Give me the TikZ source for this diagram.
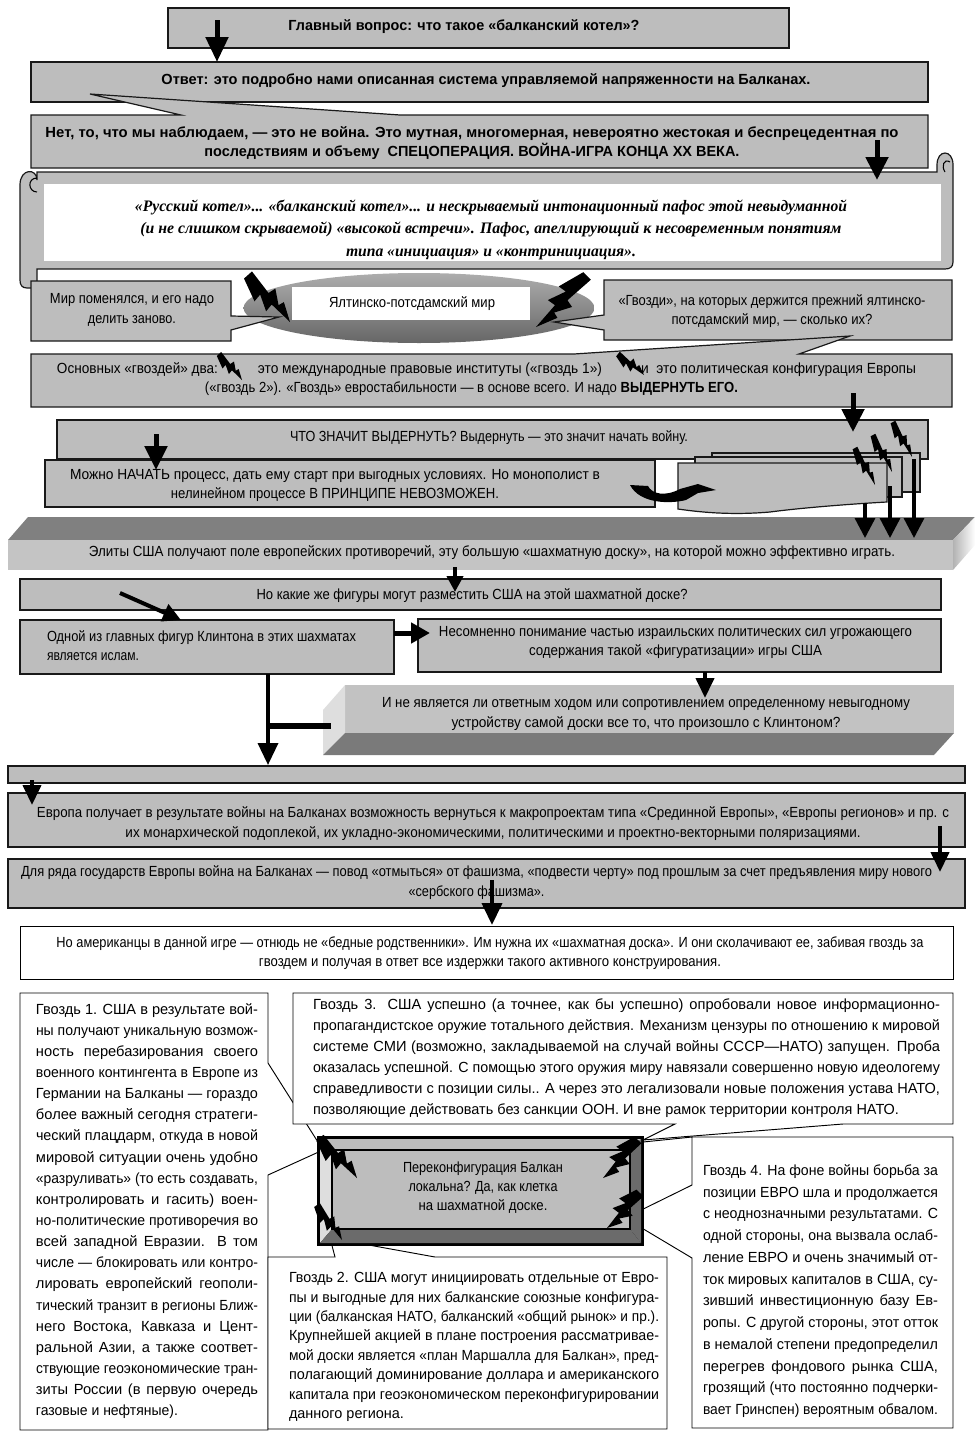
\documentclass[tikz,border=0pt]{standalone}
\usepackage{fontspec}
\usepackage{graphicx}
\setmainfont{Liberation Sans}
\newfontfamily\serf{Liberation Serif}
\usetikzlibrary{arrows.meta,calc,shapes.geometric}
\newdimen\px \px=.75pt
\newsavebox\lbox
\newcommand\fit[2]{\resizebox{#1\px}{\height}{#2}}
\newcommand\jl[2]{\sbox\lbox{#2}\ifdim\wd\lbox>#1\px\relax\resizebox{#1\px}{\height}{\usebox\lbox}\else\makebox[#1\px][s]{#2}\fi}
\definecolor{boxgray}{gray}{.74}
\definecolor{darkface}{gray}{.5}
\definecolor{lightface}{gray}{.87}
\tikzset{
  gbox/.style={draw=black!90,line width=.9pt,fill=boxgray,inner sep=0,outer sep=0},
  wbox/.style={draw=black,line width=.7pt,fill=white,inner sep=0,outer sep=0},
  nobox/.style={fill=white,inner sep=0,outer sep=0},
  txt/.style={inner sep=0,outer sep=0,align=center,font=\fontsize{11}{14.6}\selectfont},
  gtxt/.style={inner sep=0,outer sep=0,align=left,anchor=west},
  barrow/.style n args={3}{draw=black,line width=#1*.75pt,-{Triangle[length=#2*.75pt,width=#3*.75pt]}}
}
\newcommand\bx[6][gbox]{\node[#1,minimum width={(#5-#3)*\px},minimum height={(#6-#4)*\px}] (#2) at ({(#3+#5)/2},{(#4+#6)/2}) {};}
\newcommand\tl[5][]{\node[txt,#1] (#2) at (#3,#4) {#5};}
\newcommand\arr[6]{\coordinate (#1s) at (#2);\coordinate (#1e) at (#3);\draw[barrow={#4}{#5}{#6}] (#1s) -- (#1e);}
\newcommand\bolt[3]{\coordinate (bA) at (#1);\coordinate (bB) at (#2);
 \fill[black] ($(bA)!-.4*#3pt!90:(bB)$)
  -- ($(bA)!.38!(bB)!-.95*#3pt!90:(bB)$)
  -- ($(bA)!.36!(bB)!-.3*#3pt!90:(bB)$)
  -- ($(bA)!.62!(bB)!-.8*#3pt!90:(bB)$)
  -- ($(bA)!.60!(bB)!-.15*#3pt!90:(bB)$)
  -- (bB)
  -- ($(bA)!.70!(bB)!.65*#3pt!90:(bB)$)
  -- ($(bA)!.68!(bB)!.2*#3pt!90:(bB)$)
  -- ($(bA)!.45!(bB)!.85*#3pt!90:(bB)$)
  -- ($(bA)!.43!(bB)!.25*#3pt!90:(bB)$)
  -- ($(bA)!.4*#3pt!90:(bB)$) -- cycle;}
\begin{document}
\begin{tikzpicture}[x=.75pt,y=-.75pt]
\useasboundingbox (0,0) rectangle (978,1431);
% --- top boxes
\bx{b1}{168}{8}{789}{48}
\bx{b2}{31}{62}{928}{102}
\draw[gbox] (31,115) -- (181,115) -- (90,94) -- (400,115) -- (928,115) -- (928,168) -- (31,168) -- cycle;
\tl{t1}{464}{27}{\bfseries\fit{351}{Главный вопрос: что такое «балканский котел»?}}
\tl{t2}{486}{81}{\bfseries\fit{649}{Ответ: это подробно нами описанная система управляемой напряженности на Балканах.}}
\tl{t3}{472}{143}{\bfseries\fit{853}{Нет, то, что мы наблюдаем, — это не война. Это мутная, многомерная, невероятно жестокая и беспрецедентная по}\\\bfseries\fit{535}{последствиям и объему\ \ СПЕЦОПЕРАЦИЯ. ВОЙНА-ИГРА КОНЦА ХХ ВЕКА.}}
% --- scroll
\draw[gbox] (37,172) -- (937,172) -- (937,165) .. controls (937,149) and (953,149) .. (953,165) -- (953,262) .. controls (953,267) and (950,269) .. (945,269) -- (37,269) -- (37,288) -- (27,288) .. controls (22,288) and (20,285) .. (20,280) -- (20,185) .. controls (20,168) and (37,168) .. (37,180) -- cycle;
\draw[draw=black,line width=.8pt] (37,192) .. controls (28,192) and (27,178) .. (37,178);
\draw[draw=black,line width=.8pt] (945,172) .. controls (941,166) and (944,158) .. (950,162);
\bx[nobox]{scrollin}{44}{184}{941}{261}
\tl[font={\serf\itshape\bfseries\fontsize{12}{16.9}\selectfont}]{t4}{491}{229.5}{\fit{712}{«Русский котел»... «балканский котел»... и нескрываемый интонационный пафос этой невыдуманной}\\\fit{701}{(и не слишком скрываемой) «высокой встречи». Пафос, апеллирующий к несовременным понятиям}\\\fit{290}{типа «инициация» и «контринициация».}}
% --- ellipse
\node[ellipse,draw=none,top color=black!32,bottom color=black!60,minimum width=351*\px,minimum height=70*\px,inner sep=0,outer sep=0] (ell) at (419,308) {};
\bx[nobox]{yp}{292}{287}{530}{320}
\tl{t5}{412}{304}{\fit{166}{Ялтинско-потсдамский мир}}
\draw[gbox] (31,281) -- (231,281) -- (231,316) -- (279,317) -- (231,330) -- (231,341) -- (31,341) -- cycle;
\tl{t6}{132}{310}{\fit{164}{Мир поменялся, и его надо}\\\fit{88}{делить заново.}}
\draw[gbox] (604,280) -- (952,280) -- (952,340) -- (604,340) -- (604,330) -- (554,322) -- (604,315) -- cycle;
\tl{t7}{772}{311}{\fit{307}{«Гвозди», на которых держится прежний ялтинско-}\\\fit{201}{потсдамский мир, — сколько их?}}
\draw[gbox] (31,354) -- (574,354) -- (850,336) -- (799,354) -- (952,354) -- (952,407) -- (31,407) -- cycle;
\tl{t8a}{137.5}{370}{\fit{161}{Основных «гвоздей» два:}}
\tl{t8b}{430}{370}{\fit{344}{это международные правовые институты («гвоздь 1»)}}
\tl{t8c}{778.5}{370}{\fit{275}{и\ \ это политическая конфигурация Европы}}
\tl{t8d}{471.5}{389}{\fit{533}{(«гвоздь 2»). «Гвоздь» евростабильности — в основе всего. И надо \textbf{ВЫДЕРНУТЬ ЕГО.}}}
% --- war block
\bx{b6}{57}{420}{928}{459}
\tl{t9}{489}{438}{\fit{398}{ЧТО ЗНАЧИТ ВЫДЕРНУТЬ? Выдернуть — это значит начать войну.}}
\bx{docc}{712}{453}{920}{492}
\bx{docb}{695}{457}{902}{497}
\draw[gbox] (678,463) -- (887,463) -- (887,502) .. controls (850,504) and (800,508) .. (770,512) .. controls (735,515) and (705,513) .. (678,509) -- cycle;
\bx{b7}{45}{460}{655}{507}
\tl{t10}{335}{485.5}{\fit{530}{Можно НАЧАТЬ процесс, дать ему старт при выгодных условиях. Но монополист в}\\\fit{328}{нелинейном процессе В ПРИНЦИПЕ НЕВОЗМОЖЕН.}}
\fill[black] (630,485) -- (648,486) .. controls (652,494) and (665,497) .. (680,489) -- (698,484) -- (716,490) -- (698,493) -- (686,500) .. controls (670,504) and (640,504) .. (630,485) -- cycle;
% --- board
\fill[darkface] (28,517) -- (975,517) -- (953,540) -- (8,540) -- cycle;
\fill[black!23] (8,540) rectangle (953,570);
\shade[left color=black!30,right color=white] (953,540) -- (975,517) -- (975,545) -- (953,570) -- cycle;
\tl{t11}{492}{553}{\fit{806}{Элиты США получают поле европейских противоречий, эту большую «шахматную доску», на которой можно эффективно играть.}}
% --- chess
\bx{b8}{20}{579}{941}{610}
\tl{t12}{472}{596}{\fit{431}{Но какие же фигуры могут разместить США на этой шахматной доске?}}
\bx{b9}{20}{620}{394}{674}
\node[txt,anchor=west,align=left] (t13) at (47,645.5) {\fit{309}{Одной из главных фигур Клинтона в этих шахматах}\\\fit{92}{является ислам.}};
\bx{b10}{418}{619}{941}{672}
\tl{t14}{675.5}{642.5}{\fit{473}{Несомненно понимание частью израильских политических сил угрожающего}\\\fit{293}{содержания такой «фигуратизации» игры США}}
\fill[black!24] (345,685) rectangle (954,733);
\fill[lightface] (345,685) -- (323,710) -- (323,755) -- (345,733) -- cycle;
\fill[black!52] (345,733) -- (954,733) -- (934,755) -- (323,755) -- cycle;
\tl{t15}{646}{714}{\fit{528}{И не является ли ответным ходом или сопротивлением определенному невыгодному}\\\fit{389}{устройству самой доски все то, что произошло с Клинтоном?}}
% --- Europe
\bx{b12}{8}{766}{965}{783}
\bx{b13}{8}{793}{965}{847}
\tl{t16}{493}{823.5}{\fit{912}{Европа получает в результате войны на Балканах возможность вернуться к макропроектам типа «Срединной Европы», «Европы регионов» и пр. с}\\\fit{735}{их монархической подоплекой, их укладно-экономическими, политическими и проектно-векторными поляризациями.}}
\bx{b14}{8}{859}{965}{908}
\tl{t17}{476.5}{882.5}{\fit{911}{Для ряда государств Европы война на Балканах — повод «отмыться» от фашизма, «подвести черту» под прошлым за счет предъявления миру нового}\\\fit{136}{«сербского фашизма».}}
\bx[wbox]{b15}{20}{926}{953}{979}
\tl{t18}{490}{953}{\fit{867}{Но американцы в данной игре — отнюдь не «бедные родственники». Им нужна их «шахматная доска». И они сколачивают ее, забивая гвоздь за}\\\fit{462}{гвоздем и получая в ответ все издержки такого активного конструирования.}}
% --- Gvozd boxes
\draw[wbox] (20,993) -- (268,993) -- (268,1063) -- (323,1150) -- (268,1175) -- (268,1430) -- (20,1430) -- cycle;
\draw[wbox] (268,1257) -- (335,1257) -- (330,1238) -- (435,1257) -- (667,1257) -- (667,1429) -- (268,1429) -- cycle;
\draw[wbox] (293,993) -- (953,993) -- (953,1124) -- (843,1124) -- (643,1140) -- (675,1124) -- (293,1124) -- cycle;
\draw[wbox] (953,1137) -- (692,1137) -- (643,1142) -- (692,1137) -- (692,1185) -- (625,1218) -- (692,1258) -- (692,1428) -- (953,1428) -- cycle;
% --- frame
\bx[draw=black,line width=2pt,fill=black,inner sep=0,outer sep=0]{frame}{318}{1137}{643}{1245}
\fill[boxgray] (320,1139) -- (641,1139) -- (630,1150) -- (332,1150) -- cycle;
\fill[lightface] (320,1139) -- (332,1150) -- (332,1229) -- (320,1243) -- cycle;
\fill[black!58] (641,1139) -- (641,1243) -- (630,1229) -- (630,1150) -- cycle;
\fill[black!58] (320,1243) -- (332,1229) -- (630,1229) -- (641,1243) -- cycle;
\bx[draw=black,line width=2.2pt,fill=boxgray,inner sep=0,outer sep=0]{core}{332}{1150}{630}{1229}
\tl[font={\fontsize{11}{14.3}\selectfont}]{t19}{483}{1188}{\fit{160}{Переконфигурация Балкан}\\\fit{149}{локальна? Да, как клетка}\\\fit{129}{на шахматной доске.}}
% --- Gvozd texts
\node[gtxt,font=\fontsize{11}{15.86}\selectfont] (g1) at (36,1211) {\jl{222}{Гвоздь 1. США в результате вой-}\\
\jl{222}{ны получают уникальную возмож-}\\
\jl{222}{ность перебазирования своего}\\
\jl{222}{военного контингента в Европе из}\\
\jl{222}{Германии на Балканы — гораздо}\\
\jl{222}{более важный сегодня стратеги-}\\
\jl{222}{ческий плацдарм, откуда в новой}\\
\jl{222}{мировой ситуации очень удобно}\\
\jl{222}{«разруливать» (то есть создавать,}\\
\jl{222}{контролировать и гасить) воен-}\\
\jl{222}{но-политические противоречия во}\\
\jl{222}{всей западной Евразии. В том}\\
\jl{222}{числе — блокировать или контро-}\\
\jl{222}{лировать европейский геополи-}\\
\jl{222}{тический транзит в регионы Ближ-}\\
\jl{222}{него Востока, Кавказа и Цент-}\\
\jl{222}{ральной Азии, а также соответ-}\\
\jl{222}{ствующие геоэкономические тран-}\\
\jl{222}{зиты России (в первую очередь}\\
\fit{142}{газовые и нефтяные).}};
\node[gtxt,font=\fontsize{11}{14.55}\selectfont] (g2) at (289,1347) {\jl{370}{Гвоздь 2. США могут инициировать отдельные от Евро-}\\
\jl{370}{пы и выгодные для них балканские союзные конфигура-}\\
\jl{370}{ции (балканская НАТО, балканский «общий рынок» и пр.).}\\
\jl{370}{Крупнейшей акцией в плане построения рассматривае-}\\
\jl{370}{мой доски является «план Маршалла для Балкан», пред-}\\
\jl{370}{полагающий доминирование доллара и американского}\\
\jl{370}{капитала при геоэкономическом переконфигурировании}\\
\fit{115}{данного региона.}};
\node[gtxt,font=\fontsize{11}{15.75}\selectfont] (g3) at (313,1058) {\jl{627}{Гвоздь 3. США успешно (а точнее, как бы успешно) опробовали новое информационно-}\\
\jl{627}{пропагандистское оружие тотального действия. Механизм цензуры по отношению к мировой}\\
\jl{627}{системе СМИ (возможно, закладываемой на случай войны СССР—НАТО) запущен. Проба}\\
\jl{627}{оказалась успешной. С помощью этого оружия миру навязали совершенно новую идеологему}\\
\jl{627}{справедливости с позиции силы.. А через это легализовали новые положения устава НАТО,}\\
\fit{586}{позволяющие действовать без санкции ООН. И вне рамок территории контроля НАТО.}};
\node[gtxt,font=\fontsize{11}{16.3}\selectfont] (g4) at (703,1291) {\jl{235}{Гвоздь 4. На фоне войны борьба за}\\
\jl{235}{позиции ЕВРО шла и продолжается}\\
\jl{235}{с неоднозначными результатами. С}\\
\jl{235}{одной стороны, она вызвала ослаб-}\\
\jl{235}{ление ЕВРО и очень значимый от-}\\
\jl{235}{ток мировых капиталов в США, су-}\\
\jl{235}{зивший инвестиционную базу Ев-}\\
\jl{235}{ропы. С другой стороны, этот отток}\\
\jl{235}{в немалой степени предопределил}\\
\jl{235}{перегрев фондового рынка США,}\\
\jl{235}{грозящий (что постоянно подчерки-}\\
\jl{235}{вает Гринспен) вероятным обвалом.}};
% --- bolts
\bolt{248,275}{290,322}{10}
\bolt{587,276}{536,327}{10}
\bolt{219,354}{242,380}{5.5}
\bolt{618,354}{644,375}{5.5}
\bolt{855,448}{875,485}{5}
\bolt{873,435}{892,472}{5}
\bolt{893,422}{912,457}{5}
\bolt{320,1138}{357,1178}{9}
\bolt{638,1140}{603,1178}{9}
\bolt{640,1193}{607,1228}{9}
\bolt{317,1205}{342,1240}{6.5}
% --- arrows
\arr{a1}{217,20}{217,62}{5}{25}{22}
\arr{a3}{877,140}{877,180}{5}{23}{22}
\arr{a6}{853,393}{853,432}{5}{23}{22}
\arr{a7}{156,434}{156,470}{5}{24}{22}
\arr{a8a}{865,503}{865,538}{3.3}{20}{20}
\arr{a8b}{890,486}{890,538}{3.3}{20}{20}
\arr{a8c}{914,459}{914,538}{3.3}{20}{20}
\arr{a9}{455,567}{455,592}{4}{16}{16}
\arr{a10}{120,593}{181,620}{4}{18}{18}
\arr{a11}{394,633}{430,633}{5}{19}{20}
\arr{a12}{705,672}{705,698}{4}{20}{18}
\arr{a13}{268,674}{268,765}{3.5}{22}{20}
\coordinate (brs) at (268,726);\coordinate (bre) at (331,726);
\draw[draw=black,line width=4.5pt] (brs) -- (bre);
\arr{a14}{32,780}{32,805}{4}{20}{18}
\arr{a15}{940,826}{940,872}{4}{20}{18}
\arr{a16}{492,880}{492,925}{4}{22}{20}
\end{tikzpicture}
\end{document}
